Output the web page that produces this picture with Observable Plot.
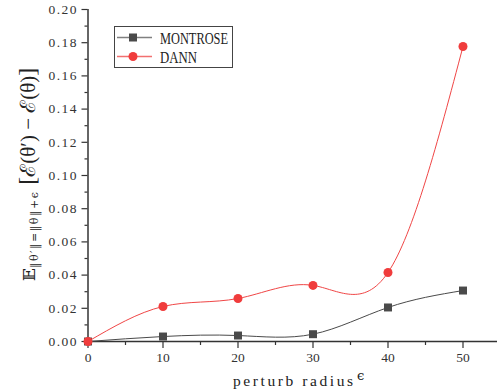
<!DOCTYPE html>
<html><head><meta charset="utf-8">
<script src="https://cdn.jsdelivr.net/npm/d3@7"></script>
<script src="https://cdn.jsdelivr.net/npm/@observablehq/plot@0.6"></script>
<style>body{margin:0;background:#fff} #chart{width:497px;height:392px}</style>
</head><body><div id="chart"></div>
<script>
const radius = [0, 10, 20, 30, 40, 50];
const montrose = [0, 0.0030, 0.0036, 0.0044, 0.0205, 0.0307];
const dann = [0, 0.0211, 0.0259, 0.0338, 0.0416, 0.1777];
const seriesNames = ["MONTROSE", "DANN"];
const xTicks = [0, 10, 20, 30, 40, 50];
const xMinor = [5, 15, 25, 35, 45];
const yTicks = [0, 0.02, 0.04, 0.06, 0.08, 0.10, 0.12, 0.14, 0.16, 0.18, 0.20];
const yMinor = [0.01, 0.03, 0.05, 0.07, 0.09, 0.11, 0.13, 0.15, 0.17, 0.19];
const yTickLabels = ["0.00", "0.02", "0.04", "0.06", "0.08", "0.10", "0.12", "0.14", "0.16", "0.18", "0.20"];
const xLabel = "perturb radius";

const mData = radius.map((x, i) => ({x, y: montrose[i]}));
const dData = radius.map((x, i) => ({x, y: dann[i]}));

const axisColor = "#333";
const svg = Plot.plot({
  width: 497, height: 392,
  marginTop: 9, marginBottom: 51, marginLeft: 87.5, marginRight: 0,
  x: {domain: [0, 54.6]},
  y: {domain: [0, 0.2]},
  style: {fontFamily: "Liberation Serif", fontSize: "13px", color: axisColor, background: "white"},
  marks: [
    Plot.axisX({ticks: xTicks, tickSize: 7, tickPadding: 4, tickFormat: d => String(d), label: null, stroke: axisColor, strokeWidth: 1.2, fontSize: 13.5}),
    Plot.axisX({ticks: xMinor, tickSize: 4, tickFormat: () => "", label: null, stroke: axisColor, strokeWidth: 1.2}),
    Plot.axisY({ticks: yTicks, tickSize: 6, tickPadding: 4, tickFormat: d => yTickLabels[Math.round(d / 0.02)], label: null, stroke: axisColor, strokeWidth: 1.2, fontSize: 13.5}),
    Plot.axisY({ticks: yMinor, tickSize: 3, tickFormat: () => "", label: null, stroke: axisColor, strokeWidth: 1.2}),
    Plot.ruleY([0], {stroke: axisColor, strokeWidth: 1.5}),
    Plot.ruleX([0], {stroke: axisColor, strokeWidth: 1.5}),
    Plot.line(mData, {x: "x", y: "y", curve: "natural", stroke: "#4a4a4a", strokeWidth: 1}),
    Plot.line(dData, {x: "x", y: "y", curve: "natural", stroke: "#f04646", strokeWidth: 1}),
    Plot.dot(mData, {x: "x", y: "y", symbol: "square", r: 4.5, fill: "#4a4a4a"}),
    Plot.dot(dData, {x: "x", y: "y", symbol: "circle", r: 4.5, fill: "#f03c3c"})
  ]
});
document.getElementById("chart").appendChild(svg);
const s = d3.select(svg);
s.selectAll('g[aria-label="y-axis tick label"] text').attr("letter-spacing", "1.5");

// Legend
const lg = s.append("g").attr("text-anchor", "start");
lg.append("rect").attr("x", 114.5).attr("y", 26.5).attr("width", 118).attr("height", 41)
  .attr("fill", "white").attr("stroke", "#444").attr("stroke-width", 1);
const rows = [
  {name: seriesNames[0], y: 37.5, line: "#808080", fill: "#4a4a4a", sym: "square", w: 68},
  {name: seriesNames[1], y: 56.5, line: "#f27070", fill: "#f03c3c", sym: "circle", w: 37}
];
rows.forEach(r => {
  lg.append("line").attr("x1", 117).attr("x2", 152).attr("y1", r.y).attr("y2", r.y)
    .attr("stroke", r.line).attr("stroke-width", 1.5);
  if (r.sym === "square") lg.append("rect").attr("x", 129).attr("y", r.y - 4).attr("width", 8).attr("height", 8).attr("fill", r.fill);
  else lg.append("circle").attr("cx", 133).attr("cy", r.y).attr("r", 4.5).attr("fill", r.fill);
  lg.append("text").attr("x", 160).attr("y", r.y + 6).attr("font-family", "Liberation Serif")
    .attr("font-size", 17).attr("textLength", r.w).attr("lengthAdjust", "spacingAndGlyphs")
    .attr("fill", "#222").text(r.name);
});

// X label
const lab = s.append("g").attr("text-anchor", "start");
lab.append("text").attr("x", 233).attr("y", 386).attr("font-family", "Liberation Serif").attr("font-size", 15.5)
  .attr("textLength", 120).attr("fill", "#222").text(xLabel);
lab.append("text").attr("x", 357).attr("y", 380).attr("font-family", "DejaVu Serif").attr("font-size", 13)
  .attr("fill", "#222").text("ϵ");

// Y label
const yl = lab.append("text").attr("transform", "translate(35,281) rotate(-90)")
  .attr("font-family", "Liberation Serif, DejaVu Serif").attr("fill", "#222");
yl.append("tspan").attr("font-size", 17).text("𝔼");
yl.append("tspan").attr("font-family", "DejaVu Serif").attr("font-size", 11).attr("dy", 3).attr("letter-spacing", 1.5).text("‖θ′‖=‖θ‖+ϵ");
yl.append("tspan").attr("font-size", 24).attr("dy", -3).text(" [");
yl.append("tspan").attr("font-size", 21).text("ℰ(θ′) − ℰ(θ)");
yl.append("tspan").attr("font-size", 24).text("]");
</script></body></html>
